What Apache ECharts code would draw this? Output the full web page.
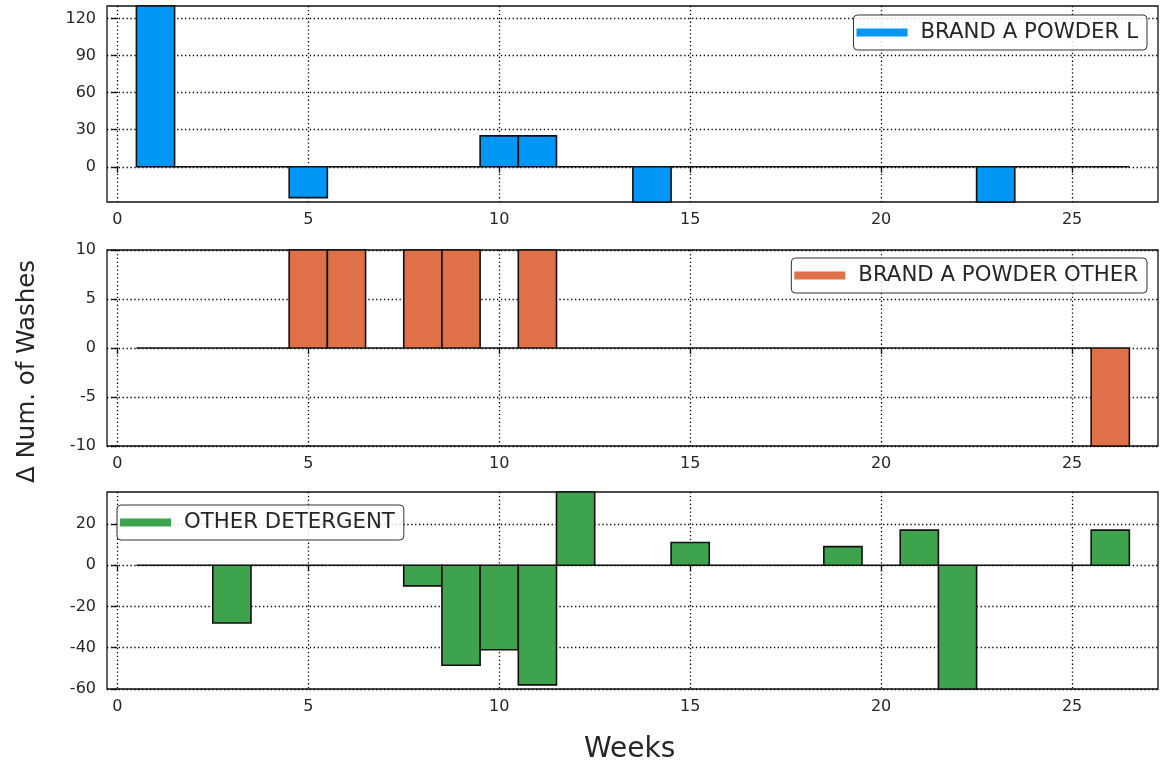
<!DOCTYPE html>
<html>
<head>
<meta charset="utf-8">
<script src="https://cdn.jsdelivr.net/npm/echarts@6/dist/echarts.min.js"></script>
<style>
  html, body { margin: 0; padding: 0; background: #fff; }
  #chart { width: 1161px; height: 767px; }
</style>
</head>
<body>
<div id="chart"></div>
<script>
// Weekly change in number of washes, one panel per product group
const weeks = [1,2,3,4,5,6,7,8,9,10,11,12,13,14,15,16,17,18,19,20,21,22,23,24,25,26];
const seriesNames = ['BRAND A POWDER L', 'BRAND A POWDER OTHER', 'OTHER DETERGENT'];
const brandAPowderL =     [130,0,0,0,-25,0,0,0,0,25,25,0,0,-28.5,0,0,0,0,0,0,0,0,-28.5,0,0,0];
const brandAPowderOther = [0,0,0,0,10,10,0,10,10,0,10,0,0,0,0,0,0,0,0,0,0,0,0,0,0,-10];
const otherDetergent =    [0,0,-28,0,0,0,0,-10,-48.5,-41,-58,35.5,0,0,11,0,0,0,9,0,17,-60,0,0,0,17];
const yLimits = [[-28.5, 130], [-10, 10], [-60, 35.5]];
const xLimits = [-0.27, 27.25];
const xTickValues = [0, 5, 10, 15, 20, 25];
const yTickValues = [[0, 30, 60, 90, 120], [-10, -5, 0, 5, 10], [-60, -40, -20, 0, 20]];
const xLabel = 'Weeks';
const yLabel = 'Δ Num. of Washes';

const colors = ['#0096f5', '#e07048', '#3da34c'];
const allValues = [brandAPowderL, brandAPowderOther, otherDetergent];

const FONT = 'DejaVu Sans';
const grids = [
  { left: 107, right: 3, top: 6, height: 196 },
  { left: 107, right: 3, top: 250, height: 196 },
  { left: 107, right: 3, top: 492, height: 197 }
];
const legendPos = [
  { right: 14, top: 15 },
  { right: 14, top: 258 },
  { left: 117, top: 505 }
];

const gridLine = { show: true, lineStyle: { color: '#000', width: 1.3, type: [1.3, 2.6] } };

function renderBar(params, api) {
  const x = api.value(0);
  const v = api.value(1);
  const pTop = api.coord([x - 0.5, v]);
  const pBase = api.coord([x + 0.5, 0]);
  const cs = params.coordSys;
  const rect = echarts.graphic.clipRectByRect(
    { x: pTop[0], y: Math.min(pTop[1], pBase[1]), width: pBase[0] - pTop[0], height: Math.abs(pBase[1] - pTop[1]) },
    { x: cs.x, y: cs.y - 1, width: cs.width, height: cs.height + 2 }
  );
  if (!rect) return;
  if (v === 0) {
    return {
      type: 'line',
      shape: { x1: rect.x, y1: pBase[1], x2: rect.x + rect.width, y2: pBase[1] },
      style: { stroke: '#111', lineWidth: 1.7 }
    };
  }
  return {
    type: 'rect',
    shape: rect,
    style: { fill: api.visual('color'), stroke: '#111', lineWidth: 1.6 }
  };
}

const option = {
  animation: false,
  backgroundColor: '#fff',
  textStyle: { fontFamily: FONT },
  grid: grids.map(g => Object.assign({ show: true, borderColor: '#111', borderWidth: 1.3, backgroundColor: 'transparent' }, g)),
  xAxis: grids.map((g, i) => ({
    type: 'value',
    gridIndex: i,
    min: xLimits[0],
    max: xLimits[1],
    axisLine: { show: false },
    axisTick: { show: true, length: 6, lineStyle: { color: '#111', width: 1.3 }, customValues: xTickValues },
    axisLabel: { show: true, customValues: xTickValues, fontSize: 16, color: '#262626', margin: 10, fontFamily: FONT },
    splitLine: gridLine
  })),
  yAxis: grids.map((g, i) => ({
    type: 'value',
    gridIndex: i,
    min: yLimits[i][0],
    max: yLimits[i][1],
    axisLine: { show: false },
    axisTick: { show: true, length: 6, lineStyle: { color: '#111', width: 1.3 }, customValues: yTickValues[i] },
    axisLabel: { show: true, customValues: yTickValues[i], fontSize: 16, color: '#262626', margin: 11, fontFamily: FONT },
    splitLine: gridLine
  })),
  legend: seriesNames.map((name, i) => Object.assign({
    data: [name],
    orient: 'horizontal',
    icon: 'rect',
    itemWidth: 51,
    itemHeight: 8,
    padding: [7, 9, 7, 3],
    borderColor: '#333',
    borderWidth: 1,
    borderRadius: 4,
    backgroundColor: 'rgba(255,255,255,0.85)',
    textStyle: { fontSize: 21.3, color: '#262626', fontFamily: FONT, padding: [0, 0, 0, 8] },
    selectedMode: false
  }, legendPos[i])),
  series: allValues.map((vals, i) => ({
    name: seriesNames[i],
    type: 'custom',
    xAxisIndex: i,
    yAxisIndex: i,
    itemStyle: { color: colors[i] },
    renderItem: renderBar,
    clip: false,
    data: weeks.map((w, k) => [w, vals[k]])
  })),
  graphic: [
    {
      type: 'text',
      left: 584,
      top: 736,
      style: { text: xLabel, font: '28px "DejaVu Sans"', fill: '#262626' }
    },
    {
      type: 'text',
      rotation: Math.PI / 2,
      x: 15,
      y: 483,
      style: { text: yLabel, font: '24.5px "DejaVu Sans"', fill: '#262626' }
    }
  ]
};

const chart = echarts.init(document.getElementById('chart'), null, { renderer: 'canvas' });
chart.setOption(option);
</script>
</body>
</html>
